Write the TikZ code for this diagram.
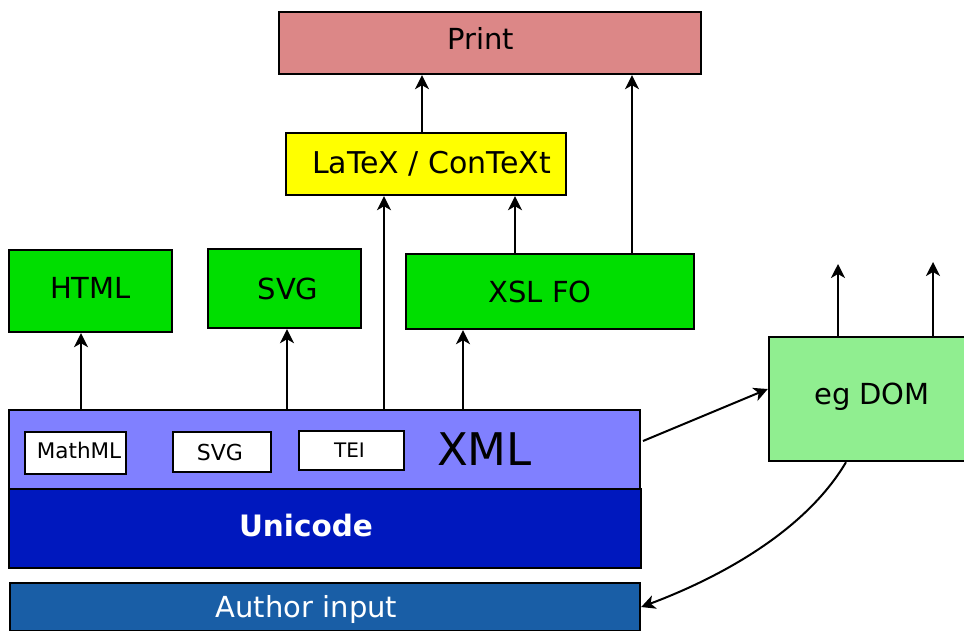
\documentclass[tikz,border=0pt]{standalone}
\usepackage{fontspec}
\setmainfont{DejaVu Sans}
\usetikzlibrary{arrows.meta}

\definecolor{printred}{RGB}{220,135,135}
\definecolor{texyellow}{RGB}{255,255,0}
\definecolor{fmtgreen}{RGB}{0,222,0}
\definecolor{domgreen}{RGB}{144,238,144}
\definecolor{xmlblue}{RGB}{128,128,255}
\definecolor{uniblue}{RGB}{0,24,190}
\definecolor{authblue}{RGB}{25,94,166}

\begin{document}
\begin{tikzpicture}[x=1pt,y=-1pt,
  box/.style={draw=black,line width=2.4pt,rectangle,inner sep=0pt,
    font=\fontsize{29}{34}\selectfont,text height=21pt,text depth=0pt},
  tagbox/.style={box,fill=white,line width=2pt,
    font=\fontsize{21}{25}\selectfont,text height=15.5pt},
  arr/.style={line width=2pt,-{Stealth[length=14pt,width=14pt,inset=4pt]}}]

\useasboundingbox (0,0) rectangle (964,630);
\clip (0,0) rectangle (964,630);

% output formats
\node[box,fill=printred,minimum width=422pt,minimum height=62pt,text depth=8pt]
  (print) at (490,43) {Print\hspace*{19pt}};
\node[box,fill=texyellow,minimum width=280pt,minimum height=62pt,
  font=\fontsize{30}{35}\selectfont,text height=22pt,text depth=4pt]
  (latex) at (426,164) {\hspace*{11pt}LaTeX / ConTeXt};
\node[box,fill=fmtgreen,minimum width=163pt,minimum height=82pt,text depth=6pt]
  (html) at (90.5,291) {HTML};
\node[box,fill=fmtgreen,minimum width=153pt,minimum height=79pt]
  (svg) at (284.5,288.5) {\hspace*{7pt}SVG};
\node[box,fill=fmtgreen,minimum width=288pt,minimum height=75pt]
  (xslfo) at (550,291.5) {XSL FO\hspace*{20pt}};
\node[box,fill=domgreen,minimum width=206pt,minimum height=124pt,text depth=10pt]
  (dom) at (872,399) {eg DOM};

% layers
\node[box,fill=xmlblue,minimum width=631pt,minimum height=79pt]
  (xml) at (324.5,449.5) {};
\node[box,fill=uniblue,minimum width=632pt,minimum height=79pt,text=white,
  font=\fontsize{29.5}{34}\selectfont\bfseries,text depth=5pt]
  (unicode) at (325,528.5) {Unicode\hspace*{38pt}};
\node[box,fill=authblue,minimum width=630pt,minimum height=48pt,text=white]
  (author) at (325,607) {Author input\hspace*{37pt}};

% vocabularies inside XML
\node[tagbox,minimum width=101pt,minimum height=42pt,
  font=\fontsize{21.5}{25}\selectfont,text depth=4pt]
  (mathml) at (75.5,453) {\hspace*{7pt}MathML};
\node[tagbox,minimum width=98pt,minimum height=40pt,font=\fontsize{22}{26}\selectfont,text height=16pt]
  (svgtag) at (222,452) {SVG\hspace*{4pt}};
\node[tagbox,minimum width=105pt,minimum height=39pt,
  font=\fontsize{20}{24}\selectfont,text height=14.6pt]
  (tei) at (351.5,450.5) {TEI\hspace*{4pt}};
\node[inner sep=0pt,font=\fontsize{45}{50}\selectfont,text height=33pt,text depth=0pt]
  (xmllabel) at (484.5,448.5) {XML};

% connector columns
\coordinate (c1) at (81,0);
\coordinate (c2) at (287,0);
\coordinate (c3) at (384,0);
\coordinate (c4) at (463,0);
\coordinate (c5) at (515,0);
\coordinate (c6) at (422,0);
\coordinate (c7) at (632,0);
\coordinate (domout1) at (838,264);
\coordinate (domout2) at (933,262);
\coordinate (xmlout) at (643,441);
\coordinate (domin) at (0,389);

\draw[arr] (xml.north -| c1) -- (html.south -| c1);
\draw[arr] (xml.north -| c2) -- (svg.south -| c2);
\draw[arr] (xml.north -| c3) -- (latex.south -| c3);
\draw[arr] (xml.north -| c4) -- (xslfo.south -| c4);
\draw[arr] (xslfo.north -| c5) -- (latex.south -| c5);
\draw[arr] (latex.north -| c6) -- (print.south -| c6);
\draw[arr] (xslfo.north -| c7) -- (print.south -| c7);
\draw[arr] (dom.north -| domout1) -- (domout1);
\draw[arr] (dom.north -| domout2) -- (domout2);
\draw[arr] (xmlout) -- (dom.west |- domin);
\draw[arr] ([xshift=-26pt]dom.south) .. controls (800,540) and (700,585) .. (author.east);

\end{tikzpicture}
\end{document}
